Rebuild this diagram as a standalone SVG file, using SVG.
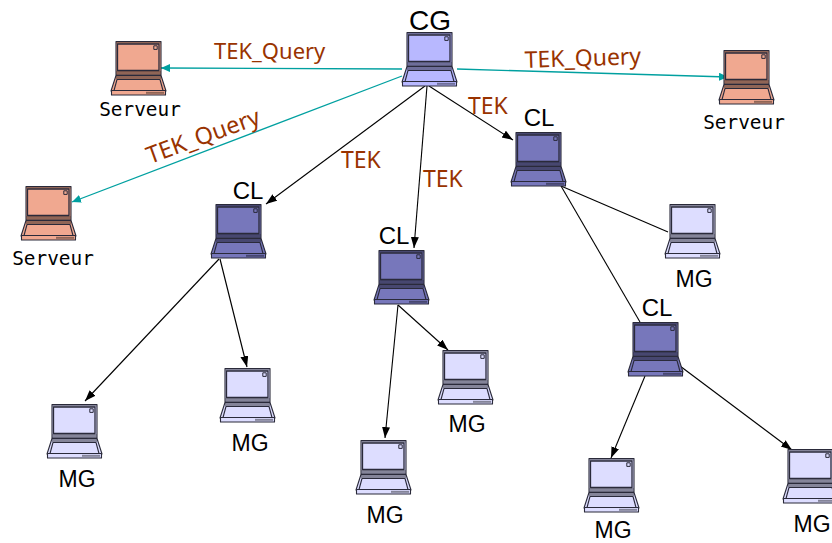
<svg xmlns="http://www.w3.org/2000/svg" width="832" height="543" viewBox="0 0 832 543">
<style>
.lap .b{stroke:#2a2a3a;stroke-width:1.1;stroke-linejoin:round}
.cg{fill:#b8b8ff}
.cl{fill:#7777bb}
.mg{fill:#ddddff}
.sv{fill:#f0a890}
.shade{fill:#000;fill-opacity:.4;stroke:none}
text{font-family:"Liberation Sans",Arial,sans-serif;fill:#000}
.lab{font-size:24px}
.mgt{font-size:23px}
.srv{font-family:"DejaVu Sans Mono",monospace;font-size:19.4px}
.tek{font-family:"Noto Sans","Open Sans",sans-serif;fill:#993300;font-size:22px}
.k{fill:none;stroke:#000;stroke-width:1.1}
.t{fill:none;stroke:#00a0a0;stroke-width:1.3}
</style>
<defs>
<marker id="ak" markerUnits="userSpaceOnUse" markerWidth="12" markerHeight="10" refX="11" refY="4" orient="auto"><path d="M0 0L11 4L0 8z" fill="#000"/></marker>
<marker id="at" markerUnits="userSpaceOnUse" markerWidth="12" markerHeight="10" refX="9" refY="4" orient="auto"><path d="M0 0L9 4L0 8z" fill="#00a0a0"/></marker>
<g id="laptop" class="lap">
<rect class="b" x="5" y="0.5" width="45" height="33.5"/>
<rect class="shade" x="5.5" y="1" width="44" height="1.6"/>
<rect class="b" x="6.5" y="3" width="41.5" height="26.5" style="stroke-width:1.3"/>
<rect class="shade" x="5.5" y="30" width="44" height="3.5"/>
<rect class="b" x="42.8" y="4.8" width="3.4" height="3.6" style="stroke-width:1"/>
<path class="b" d="M5 34.5H50L55 50H0z"/>
<path class="b" d="M6 38.5H49L52 49.5H3z" fill="none"/>
<rect class="shade" x="5" y="35" width="45" height="3"/>
<rect class="b" x="0.5" y="49.5" width="54" height="4.5"/>
<rect class="shade" x="35" y="50.8" width="18" height="2"/>
</g>
</defs>
<g id="connectors">
<path class="t" d="M402 69L161 68" marker-end="url(#at)"/>
<path class="t" d="M457 69L728 77" marker-end="url(#at)"/>
<path class="t" d="M402 76L72 202" marker-end="url(#at)"/>
<path class="k" d="M425 86L266 204" marker-end="url(#ak)"/>
<path class="k" d="M427 86L414 248" marker-end="url(#ak)"/>
<path class="k" d="M429 86L513 140" marker-end="url(#ak)"/>
<path class="k" d="M219 259L85 401" marker-end="url(#ak)"/>
<path class="k" d="M220 259L247 367" marker-end="url(#ak)"/>
<path class="k" d="M398 305L385 438" marker-end="url(#ak)"/>
<path class="k" d="M398 305L448 350" marker-end="url(#ak)"/>
<path class="k" d="M561 186L668 232"/>
<path class="k" d="M561 186L640 322"/>
<path class="k" d="M645 376L611 458" marker-end="url(#ak)"/>
<path class="k" d="M680 366L792 450" marker-end="url(#ak)"/>
</g>
<g id="cg" class="cg"><use href="#laptop" x="402" y="32"/><text class="lab" x="430" y="30" text-anchor="middle" style="font-size:28px">CG</text></g>
<g id="srv1" class="sv"><use href="#laptop" x="111" y="41"/><text class="srv" x="140" y="116" text-anchor="middle">Serveur</text></g>
<g id="srv2" class="sv"><use href="#laptop" x="719" y="50"/><text class="srv" x="744" y="129" text-anchor="middle">Serveur</text></g>
<g id="srv3" class="sv"><use href="#laptop" x="21" y="186"/><text class="srv" x="53" y="265" text-anchor="middle">Serveur</text></g>
<g id="cl1" class="cl"><use href="#laptop" x="211" y="204"/><text class="lab" x="248" y="199" text-anchor="middle">CL</text></g>
<g id="cl2" class="cl"><use href="#laptop" x="374" y="250"/><text class="lab" x="394" y="244" text-anchor="middle">CL</text></g>
<g id="cl3" class="cl"><use href="#laptop" x="511" y="132"/><text class="lab" x="539" y="126" text-anchor="middle">CL</text></g>
<g id="cl4" class="cl"><use href="#laptop" x="628" y="322"/><text class="lab" x="657" y="316" text-anchor="middle">CL</text></g>
<g id="mg1" class="mg"><use href="#laptop" x="665" y="204"/><text class="mgt" x="694" y="287" text-anchor="middle">MG</text></g>
<g id="mg2" class="mg"><use href="#laptop" x="47" y="404"/><text class="mgt" x="77" y="487" text-anchor="middle">MG</text></g>
<g id="mg3" class="mg"><use href="#laptop" x="220" y="368"/><text class="mgt" x="250" y="451" text-anchor="middle">MG</text></g>
<g id="mg4" class="mg"><use href="#laptop" x="356" y="440"/><text class="mgt" x="385" y="523" text-anchor="middle">MG</text></g>
<g id="mg5" class="mg"><use href="#laptop" x="438" y="350"/><text class="mgt" x="467" y="432" text-anchor="middle">MG</text></g>
<g id="mg6" class="mg"><use href="#laptop" x="584" y="458"/><text class="mgt" x="613" y="538" text-anchor="middle">MG</text></g>
<g id="mg7" class="mg"><use href="#laptop" x="783" y="449"/><text class="mgt" x="812" y="532" text-anchor="middle">MG</text></g>
<g id="labels">
<text class="tek" x="214" y="59">TEK_Query</text>
<text class="tek" x="525" y="68" transform="rotate(-2 525 68)" style="font-size:23px">TEK_Query</text>
<text class="tek" x="150" y="164" transform="rotate(-20 150 164)" style="font-size:23.5px">TEK_Query</text>
<text class="tek" x="341" y="168" style="font-size:23px">TEK</text>
<text class="tek" x="423" y="187" style="font-size:23px">TEK</text>
<text class="tek" x="468" y="114" style="font-size:23px">TEK</text>
</g>
</svg>
